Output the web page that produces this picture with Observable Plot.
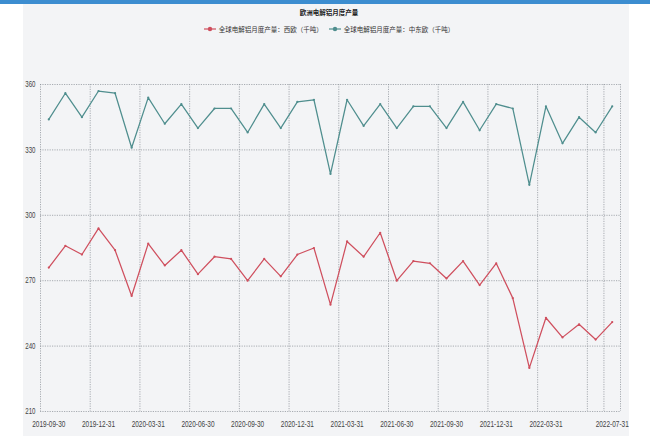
<!DOCTYPE html>
<html>
<head>
<meta charset="utf-8">
<script src="https://cdn.jsdelivr.net/npm/d3@7"></script>
<script src="https://cdn.jsdelivr.net/npm/@observablehq/plot@0.6"></script>
<style>
  body { margin:0; width:650px; height:436px; position:relative; overflow:hidden; background:#fff; }
  #bar { position:absolute; left:0; top:0; width:650px; height:4px; background:#3c8dd0; }
  #panel { position:absolute; left:23px; top:4px; width:606px; height:432px; background:#f3f4f6; }
  #title { position:absolute; top:6px; left:4px; width:650px; text-align:center; font-family:"Noto Sans CJK SC", sans-serif; font-weight:bold; font-size:6.5px; line-height:12px; color:#222; }
  #legend { position:absolute; top:23px; left:4px; width:650px; display:flex; justify-content:center; align-items:center; font-family:"Noto Sans CJK SC", sans-serif; font-size:6.5px; line-height:12px; color:#333; }
  #legend .item { display:flex; align-items:center; margin:0 3px; }
  #legend svg { margin-right:3px; }
  #chart { position:absolute; top:40px; left:0; }
  g[aria-label="y-axis tick label"] text { font-size:8.5px; }
  g[aria-label="x-axis tick label"] text { font-size:9px; }
</style>
</head>
<body>
<div id="bar"></div>
<div id="panel"></div>
<div id="title"></div>
<div id="legend"></div>
<div id="chart"></div>
<script>
const title = "欧洲电解铝月度产量";
const seriesNames = ["全球电解铝月度产量：西欧（千吨）", "全球电解铝月度产量：中东欧（千吨）"];
const seriesColors = ["#cf4f5e", "#4f8e8e"];

const categories = [
  "2019-09-30","2019-10-31","2019-11-30","2019-12-31","2020-01-31","2020-02-29",
  "2020-03-31","2020-04-30","2020-05-31","2020-06-30","2020-07-31","2020-08-31",
  "2020-09-30","2020-10-31","2020-11-30","2020-12-31","2021-01-31","2021-02-28",
  "2021-03-31","2021-04-30","2021-05-31","2021-06-30","2021-07-31","2021-08-31",
  "2021-09-30","2021-10-31","2021-11-30","2021-12-31","2022-01-31","2022-02-28",
  "2022-03-31","2022-04-30","2022-05-31","2022-06-30","2022-07-31"
];
const westEurope = [276,286,282,294,284,263,287,277,284,273,281,280,270,280,272,282,285,259,
                    288,281,292,270,279,278,271,279,268,278,262,230,253,244,250,243,251];
const centralEastEurope = [344,356,345,357,356,331,354,342,351,340,349,349,338,351,340,352,353,319,
                           353,341,351,340,350,350,340,352,339,351,349,314,350,333,345,338,350];

const xTickLabels = ["2019-09-30","2019-12-31","2020-03-31","2020-06-30","2020-09-30","2020-12-31",
                     "2021-03-31","2021-06-30","2021-09-30","2021-12-31","2022-03-31","2022-07-31"];
const xGridCategories = ["2019-09-30","2019-12-31","2020-03-31","2020-06-30","2020-09-30","2020-12-31",
                     "2021-03-31","2021-06-30","2021-09-30","2021-12-31","2022-03-31","2022-06-30","2022-07-31"];
const yTicks = [210, 240, 270, 300, 330, 360];

document.getElementById("title").textContent = title;
const legend = document.getElementById("legend");
seriesNames.forEach((name, k) => {
  const item = document.createElement("div");
  item.className = "item";
  item.innerHTML = `<svg width="12" height="8"><line x1="0" y1="4" x2="12" y2="4" stroke="${seriesColors[k]}" stroke-width="1.2"/><circle cx="6" cy="4" r="2.2" fill="${seriesColors[k]}"/></svg><span></span>`;
  item.querySelector("span").textContent = name;
  legend.appendChild(item);
});

const W = 650, H = 396, mL = 40, mR = 30, mT = 44, mB = 25;
const step = (W - mL - mR) / categories.length;
const gridStyle = {stroke: "#8a8f96", strokeWidth: 0.8, strokeDasharray: "1.2,1.2", strokeOpacity: 0.9};
const fontFam = "'Liberation Sans', Arial, sans-serif";

const chart = Plot.plot({
  width: W, height: H,
  marginLeft: mL, marginRight: mR, marginTop: mT, marginBottom: mB,
  style: {background: "transparent", fontFamily: fontFam, fontSize: "8px", color: "#444"},
  x: {type: "point", domain: categories, padding: 0.5, round: false, ticks: xTickLabels, tickSize: 0, tickPadding: 9, label: null},
  y: {domain: [210, 360], ticks: yTicks, tickSize: 0, tickPadding: 5, label: null},
  marks: [
    Plot.ruleY(yTicks, {...gridStyle}),
    Plot.ruleX(xGridCategories, {x: d => d, dx: -step / 2, ...gridStyle}),
    Plot.ruleX([categories[categories.length - 1]], {x: d => d, dx: step / 2, ...gridStyle}),
    Plot.lineY(westEurope, {x: (d, i) => categories[i], y: d => d, stroke: seriesColors[0], strokeWidth: 1.25}),
    Plot.dot(westEurope, {x: (d, i) => categories[i], y: d => d, r: 1.1, fill: seriesColors[0]}),
    Plot.lineY(centralEastEurope, {x: (d, i) => categories[i], y: d => d, stroke: seriesColors[1], strokeWidth: 1.25}),
    Plot.dot(centralEastEurope, {x: (d, i) => categories[i], y: d => d, r: 1.1, fill: seriesColors[1]})
  ]
});
// narrow the tick labels horizontally, like the reference's condensed digits
chart.querySelectorAll('g[aria-label="x-axis tick label"] text').forEach(t => {
  t.setAttribute("transform", (t.getAttribute("transform") || "") + " scale(0.72,1)");
});
chart.querySelectorAll('g[aria-label="y-axis tick label"] text').forEach(t => {
  t.setAttribute("transform", (t.getAttribute("transform") || "") + " scale(0.72,1)");
});
document.getElementById("chart").appendChild(chart);
</script>
</body>
</html>
